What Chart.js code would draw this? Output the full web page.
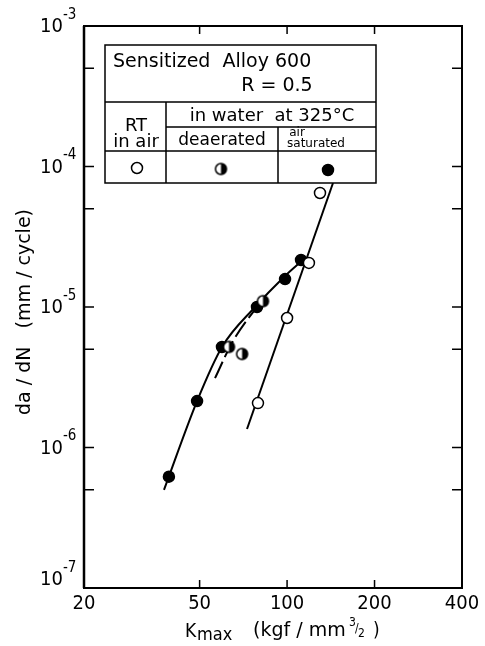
<!DOCTYPE html>
<html>
<head>
<meta charset="utf-8">
<script src="https://cdn.jsdelivr.net/npm/chart.js@4.4.1/dist/chart.umd.min.js"></script>
<style>
  html, body { margin: 0; padding: 0; background: #fff; }
  canvas { display: block; }
</style>
</head>
<body>
<canvas id="myChart" width="485" height="646"></canvas>
<script>
const FONT = '"DejaVu Sans Condensed", "Liberation Sans Narrow", "DejaVu Sans", sans-serif';
const FONT_W = '"DejaVu Sans", "Liberation Sans", sans-serif';

// Kmax (kgf/mm^3/2) and da/dN (mm/cycle)
const airK = [79.4, 100, 118.9, 129.8];
const airRate = [2.07e-6, 8.35e-6, 2.06e-5, 6.48e-5];
const deaK = [63.1, 70, 82.6];
const deaRate = [5.2e-6, 4.63e-6, 1.1e-5];
const satK = [39.2, 49, 59.7, 78.8, 98.4, 111.7];
const satRate = [6.2e-7, 2.14e-6, 5.19e-6, 1.0e-5, 1.58e-5, 2.16e-5];

// hand drawn trend lines
const satCurveK = [37.7, 49, 59.7, 77.6, 96.8, 115.3];
const satCurveRate = [5.0e-7, 2.14e-6, 5.19e-6, 1.0e-5, 1.61e-5, 2.23e-5];
const deaCurveK = [56.5, 64.6, 76.4, 82.6];
const deaCurveRate = [3.12e-6, 5.55e-6, 9.2e-6, 1.1e-5];
const airLineK = [72.8, 143.9];
const airLineRate = [1.355e-6, 7.63e-5];

const xTicks = [20, 50, 100, 200, 400];
const yTicks = [1e-7, 5e-7, 1e-6, 5e-6, 1e-5, 5e-5, 1e-4, 5e-4, 1e-3];
const yDecades = [-7, -6, -5, -4, -3];

const pts = (xs, ys) => xs.map((x, i) => ({ x: x, y: ys[i] }));

function halfDot(r) {
  const c = document.createElement('canvas');
  const s = Math.ceil(2 * r + 4);
  c.width = s; c.height = s;
  const g = c.getContext('2d');
  const m = s / 2;
  g.fillStyle = '#fff';
  g.beginPath(); g.arc(m, m, r, 0, 2 * Math.PI); g.fill();
  g.fillStyle = '#000';
  g.beginPath(); g.moveTo(m, m); g.arc(m, m, r, -Math.PI / 2, Math.PI / 2); g.closePath(); g.fill();
  g.lineWidth = 1.5; g.strokeStyle = '#000';
  g.beginPath(); g.arc(m, m, r, 0, 2 * Math.PI); g.stroke();
  return c;
}
const halfImg = halfDot(5.5);

function dot(g, x, y, r, fill) {
  g.beginPath();
  g.arc(x, y, r, 0, 2 * Math.PI);
  g.fillStyle = fill;
  g.fill();
  g.lineWidth = 1.5;
  g.strokeStyle = '#000';
  g.stroke();
}

const decor = {
  id: 'decor',
  afterDraw(chart) {
    const g = chart.ctx;
    const a = chart.chartArea;
    const sx = chart.scales.x, sy = chart.scales.y;
    g.save();
    g.strokeStyle = '#000';
    g.fillStyle = '#000';

    // frame
    g.lineWidth = 2;
    g.strokeRect(a.left, a.top, a.right - a.left, a.bottom - a.top);
    g.lineWidth = 2.5;
    g.beginPath(); g.moveTo(a.left, a.top); g.lineTo(a.left, a.bottom); g.stroke();

    // inward ticks
    g.lineWidth = 1.5;
    xTicks.forEach(v => {
      const px = sx.getPixelForValue(v);
      g.beginPath();
      g.moveTo(px, a.bottom); g.lineTo(px, a.bottom - 8);
      g.moveTo(px, a.top); g.lineTo(px, a.top + 8);
      g.stroke();
    });
    yTicks.forEach(v => {
      const py = sy.getPixelForValue(v);
      g.beginPath();
      g.moveTo(a.left, py); g.lineTo(a.left + 10, py);
      g.moveTo(a.right, py); g.lineTo(a.right - 10, py);
      g.stroke();
    });

    // x tick labels
    g.font = '20px ' + FONT;
    g.textAlign = 'center';
    g.textBaseline = 'middle';
    xTicks.forEach(v => {
      g.fillText(String(v), sx.getPixelForValue(v), a.bottom + 16);
    });

    // y tick labels 10^n
    yDecades.forEach(e => {
      let py = sy.getPixelForValue(Math.pow(10, e));
      if (e === -7) py -= 9;
      g.font = '20px ' + FONT;
      g.textAlign = 'right';
      g.textBaseline = 'middle';
      g.fillText('10', 63, py + 1);
      g.font = '15px ' + FONT;
      g.textAlign = 'left';
      g.fillText('-' + String(-e), 63, py - 11);
    });

    // y title
    g.save();
    g.translate(25, 312);
    g.rotate(-Math.PI / 2);
    g.font = '19px ' + FONT_W;
    g.textAlign = 'center';
    g.textBaseline = 'middle';
    g.fillText('da / dN   (mm / cycle)', 0, 0);
    g.restore();

    // x title
    g.textBaseline = 'alphabetic';
    g.textAlign = 'left';
    g.font = '19px ' + FONT;
    g.fillText('K', 185, 637);
    g.font = '18px ' + FONT;
    g.fillText('max', 197, 640);
    g.font = '19px ' + FONT_W;
    g.fillText('(kgf / mm', 253, 636);
    g.font = '12px ' + FONT;
    g.fillText('3', 349, 626);
    g.fillText('/', 355, 632);
    g.fillText('2', 358, 637);
    g.font = '19px ' + FONT;
    g.fillText(')', 373, 636);

    // key table
    const L = 105, R = 376, T = 45, B = 183;
    const r1 = 102, r2 = 127, r3 = 151, c1 = 166, c2 = 278;
    g.fillStyle = '#fff';
    g.fillRect(L, T, R - L, B - T);
    g.lineWidth = 1.5;
    g.strokeRect(L, T, R - L, B - T);
    g.beginPath();
    g.moveTo(L, r1); g.lineTo(R, r1);
    g.moveTo(c1, r2); g.lineTo(R, r2);
    g.moveTo(L, r3); g.lineTo(R, r3);
    g.moveTo(c1, r1); g.lineTo(c1, B);
    g.moveTo(c2, r2); g.lineTo(c2, B);
    g.stroke();

    g.fillStyle = '#000';
    g.textBaseline = 'middle';
    g.font = '19px ' + FONT_W;
    g.textAlign = 'left';
    g.fillText('Sensitized  Alloy 600', 113, 62);
    g.textAlign = 'center';
    g.fillText('R = 0.5', 277, 86);
    g.font = '18px ' + FONT_W;
    g.fillText('RT', 136, 126);
    g.fillText('in air', 136, 142);
    g.fillText('in water  at 325\u00B0C', 272, 116);
    g.font = '17px ' + FONT_W;
    g.fillText('deaerated', 222, 141);
    g.font = '12px ' + FONT_W;
    g.fillText('air', 297, 133);
    g.fillText('saturated', 316, 144);

    dot(g, 137, 168, 5.5, '#fff');
    g.drawImage(halfImg, 221 - halfImg.width / 2, 169 - halfImg.height / 2);
    dot(g, 328, 170, 5.5, '#000');

    g.restore();
  }
};

const ctx = document.getElementById('myChart');
new Chart(ctx, {
  type: 'scatter',
  data: {
    datasets: [
      {
        label: 'RT in air',
        data: pts(airK, airRate),
        pointStyle: 'circle',
        pointRadius: 5.5,
        pointBackgroundColor: '#fff',
        pointBorderColor: '#000',
        pointBorderWidth: 1.5
      },
      {
        label: 'deaerated',
        data: pts(deaK, deaRate),
        pointStyle: halfImg,
        pointRadius: 5.5
      },
      {
        label: 'air saturated',
        data: pts(satK, satRate),
        pointStyle: 'circle',
        pointRadius: 5.5,
        pointBackgroundColor: '#000',
        pointBorderColor: '#000',
        pointBorderWidth: 1.5
      },
      {
        label: 'air line',
        data: pts(airLineK, airLineRate),
        showLine: true,
        borderColor: '#000',
        borderWidth: 2,
        pointRadius: 0
      },
      {
        label: 'deaerated curve',
        data: pts(deaCurveK, deaCurveRate),
        showLine: true,
        borderColor: '#000',
        borderWidth: 2,
        borderDash: [18, 5],
        cubicInterpolationMode: 'monotone',
        pointRadius: 0
      },
      {
        label: 'saturated curve',
        data: pts(satCurveK, satCurveRate),
        showLine: true,
        borderColor: '#000',
        borderWidth: 2,
        cubicInterpolationMode: 'monotone',
        pointRadius: 0
      }
    ]
  },
  options: {
    responsive: false,
    devicePixelRatio: 1,
    animation: false,
    layout: { padding: { left: 84, right: 23, top: 26, bottom: 58 } },
    plugins: { legend: { display: false }, tooltip: { enabled: false } },
    scales: {
      x: { type: 'logarithmic', min: 20, max: 400, display: false },
      y: { type: 'logarithmic', min: 1e-7, max: 1e-3, display: false }
    }
  },
  plugins: [decor]
});
</script>
</body>
</html>
